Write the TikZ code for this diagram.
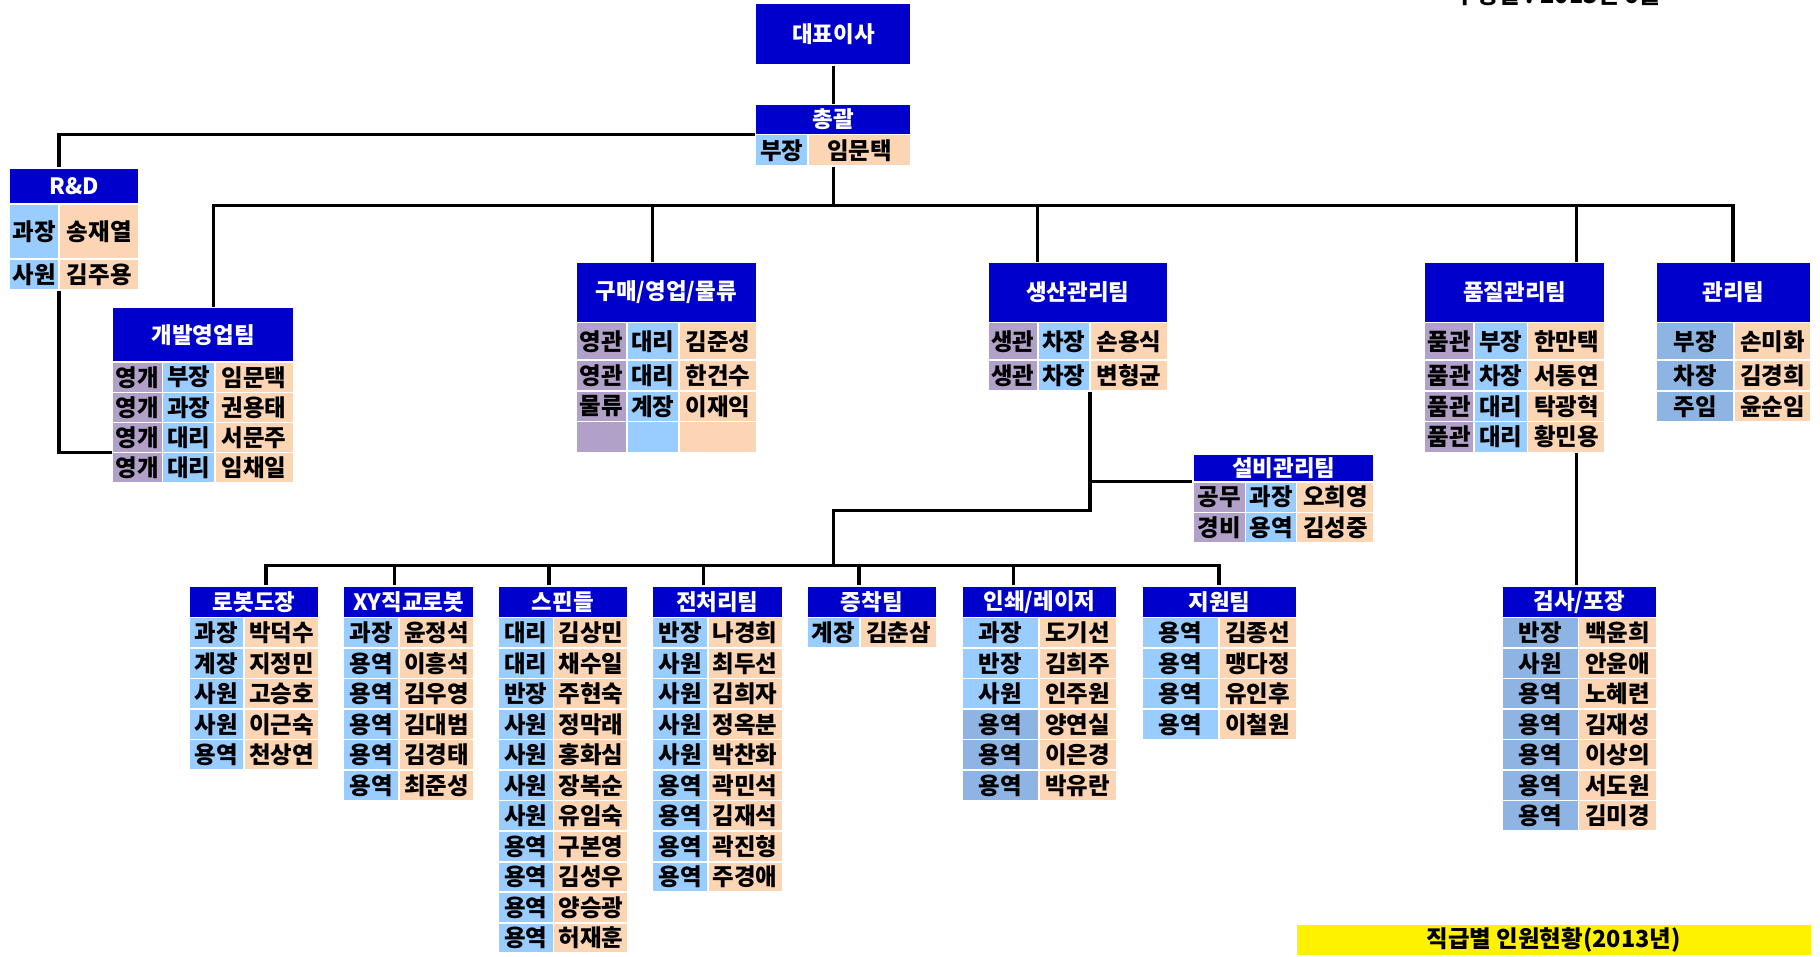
\documentclass[tikz,border=0pt]{standalone}
\usepackage{fontspec}
\setmainfont{Noto Sans CJK KR}
\usepackage{tikz}
\usetikzlibrary{backgrounds}
\definecolor{headblue}{HTML}{0000CC}
\definecolor{grpviolet}{HTML}{B1A0C7}
\definecolor{rankblue}{HTML}{99CCFF}
\definecolor{rankdeep}{HTML}{8DB4E2}
\definecolor{namepeach}{HTML}{FCD5B4}

% one table cell: name, style, x, y (top left), width, height, text
\newcommand{\tcell}[7]{%
  \node[#2, anchor=north west, minimum width={(#5)*0.02cm},
        minimum height={(#6)*0.02cm}] (#1) at ({#3},{#4}) {#7};}

% team of the lower row: name, x, rank width, name width, rank style, title, rows
\newcommand{\lowteam}[7]{%
  \tcell{#1}{head}{#2}{505}{(#3)+(#4)}{27}{#6}
  \foreach \rk/\nm [count=\i] in {#7} {
    \tcell{#1-r\i}{#5}{#2}{532+(\i-1)*26.3}{#3}{26.3}{\rk}
    \tcell{#1-n\i}{who}{(#2)+(#3)}{532+(\i-1)*26.3}{#4}{26.3}{\nm}
  }}

\begin{document}
\begin{tikzpicture}[x=0.02cm, y=-0.02cm,
  link/.style={draw=black, line width=1.7pt},
  cellbase/.style={draw=white, line width=0.8pt, inner sep=0pt, outer sep=0pt,
                   text=black, font=\fontsize{11.5}{13}\selectfont\bfseries},
  head/.style={cellbase, fill=headblue, text=white,
               font=\fontsize{11}{13}\selectfont\bfseries},
  grp/.style={cellbase, fill=grpviolet},
  rank/.style={cellbase, fill=rankblue},
  rankdk/.style={cellbase, fill=rankdeep},
  who/.style={cellbase, fill=namepeach},
  note/.style={cellbase, draw=none, fill=yellow},
]
  \useasboundingbox (0,0) rectangle (1568,824);

  % Date line, cut at the top edge
  \node[anchor=base, font=\fontsize{11.5}{13}\selectfont\bfseries] (date) at (1342,3) {수정일 : 2013년 6월};

  % CEO and head office
  \tcell{ceo}{head}{651}{3}{134}{53}{대표이사}
  \tcell{hq}{head}{651}{90}{134}{26}{총괄}
  \tcell{hq-r}{rank}{651}{116}{45}{27}{부장}
  \tcell{hq-n}{who}{696}{116}{89}{27}{임문택}

  % R&D
  \tcell{rd}{head}{8}{145}{112}{31}{R\&D}
  \tcell{rd-r1}{rank}{8}{176}{43}{47}{과장}
  \tcell{rd-n1}{who}{51}{176}{69}{47}{송재열}
  \tcell{rd-r2}{rank}{8}{223}{43}{27}{사원}
  \tcell{rd-n2}{who}{51}{223}{69}{27}{김주용}

  % Development sales
  \tcell{dv}{head}{97}{265}{156}{47}{개발영업팀}
  \foreach \rk/\nm [count=\i] in {부장/임문택, 과장/권용태, 대리/서문주, 대리/임채일} {
    \tcell{dv-g\i}{grp}{97}{312+(\i-1)*26}{43}{26}{영개}
    \tcell{dv-r\i}{rank}{140}{312+(\i-1)*26}{45}{26}{\rk}
    \tcell{dv-n\i}{who}{185}{312+(\i-1)*26}{68}{26}{\nm}
  }

  % Purchase / sales / logistics
  \tcell{gm}{head}{496}{226}{156}{52}{구매/영업/물류}
  \foreach \gp/\rk/\nm/\y/\h [count=\i] in {영관/대리/김준성/278/32, 영관/대리/한건수/310/27,
      물류/계장/이재익/337/26, {}/{}/{}/363/27} {
    \tcell{gm-g\i}{grp}{496}{\y}{44}{\h}{\gp}
    \tcell{gm-r\i}{rank}{540}{\y}{45}{\h}{\rk}
    \tcell{gm-n\i}{who}{585}{\y}{67}{\h}{\nm}
  }

  % Production control
  \tcell{sg}{head}{851}{226}{155}{52}{생산관리팀}
  \foreach \rk/\nm/\y/\h [count=\i] in {차장/손용식/278/32, 차장/변형균/310/27} {
    \tcell{sg-g\i}{grp}{851}{\y}{43}{\h}{생관}
    \tcell{sg-r\i}{rank}{894}{\y}{45}{\h}{\rk}
    \tcell{sg-n\i}{who}{939}{\y}{67}{\h}{\nm}
  }

  % Facilities
  \tcell{sb}{head}{1028}{391}{156}{24}{설비관리팀}
  \foreach \gp/\rk/\nm [count=\i] in {공무/과장/오희영, 경비/용역/김성중} {
    \tcell{sb-g\i}{grp}{1028}{415+(\i-1)*26.5}{45}{26.5}{\gp}
    \tcell{sb-r\i}{rank}{1073}{415+(\i-1)*26.5}{44}{26.5}{\rk}
    \tcell{sb-n\i}{who}{1117}{415+(\i-1)*26.5}{67}{26.5}{\nm}
  }

  % Quality control
  \tcell{pq}{head}{1227}{226}{156}{52}{품질관리팀}
  \foreach \rk/\nm/\y/\h [count=\i] in {부장/한만택/278/32, 차장/서동연/310/27,
      대리/탁광혁/337/26, 대리/황민용/363/27} {
    \tcell{pq-g\i}{grp}{1227}{\y}{43}{\h}{품관}
    \tcell{pq-r\i}{rank}{1270}{\y}{46}{\h}{\rk}
    \tcell{pq-n\i}{who}{1316}{\y}{67}{\h}{\nm}
  }

  % Administration
  \tcell{mg}{head}{1427}{226}{133}{52}{관리팀}
  \foreach \rk/\nm/\y/\h [count=\i] in {부장/손미화/278/32, 차장/김경희/310/27, 주임/윤순임/337/26} {
    \tcell{mg-r\i}{rankdk}{1427}{\y}{67}{\h}{\rk}
    \tcell{mg-n\i}{who}{1494}{\y}{66}{\h}{\nm}
  }

  % Lower row of teams
  \lowteam{rb}{163}{47}{65}{rank}{로봇도장}{과장/박덕수, 계장/지정민, 사원/고승호, 사원/이근숙, 용역/천상연}
  \lowteam{xy}{296}{48}{64}{rank}{XY직교로봇}{과장/윤정석, 용역/이흥석, 용역/김우영, 용역/김대범, 용역/김경태, 용역/최준성}
  \lowteam{sp}{429}{48}{64}{rank}{스핀들}{대리/김상민, 대리/채수일, 반장/주현숙, 사원/정막래, 사원/홍화심,
      사원/장복순, 사원/유임숙, 용역/구본영, 용역/김성우, 용역/양승광, 용역/허재훈}
  \lowteam{jc}{562}{48}{64}{rank}{전처리팀}{반장/나경희, 사원/최두선, 사원/김희자, 사원/정옥분, 사원/박찬화,
      용역/곽민석, 용역/김재석, 용역/곽진형, 용역/주경애}
  \lowteam{jk}{695}{46}{66}{rank}{증착팀}{계장/김춘삼}
  \tcell{ps}{head}{829}{505}{133}{27}{인쇄/레이저}
  \foreach \fc/\rk/\nm [count=\i] in {rankblue/과장/도기선, rankblue/반장/김희주, rankblue/사원/인주원,
      rankdeep/용역/양연실, rankdeep/용역/이은경, rankdeep/용역/박유란} {
    \tcell{ps-r\i}{rank, fill=\fc}{829}{532+(\i-1)*26.3}{66}{26.3}{\rk}
    \tcell{ps-n\i}{who}{895}{532+(\i-1)*26.3}{67}{26.3}{\nm}
  }
  \lowteam{jw}{984}{66}{67}{rank}{지원팀}{용역/김종선, 용역/맹다정, 용역/유인후, 용역/이철원}
  \lowteam{gs}{1294}{66}{67}{rankdk}{검사/포장}{반장/백윤희, 사원/안윤애, 용역/노혜련, 용역/김재성,
      용역/이상의, 용역/서도원, 용역/김미경}

  % Headcount note
  \tcell{tally}{note}{1117}{797}{443}{26}{직급별 인원현황(2013년)}

  % Bus points
  \coordinate (topbus) at (718,177);
  \coordinate (td-dv) at (184,177);
  \coordinate (td-gm) at (562,177);
  \coordinate (td-sg) at (894,177);
  \coordinate (td-pq) at (1358,177);
  \coordinate (td-mg) at (1493,177);
  \coordinate (lowjoin) at (718,440);
  \coordinate (lowbus) at (718,487);
  \coordinate (ld-rb) at (229,487);
  \coordinate (ld-xy) at (340,487);
  \coordinate (ld-sp) at (473,487);
  \coordinate (ld-jc) at (606,487);
  \coordinate (ld-jk) at (740,487);
  \coordinate (ld-ps) at (873,487);
  \coordinate (ld-jw) at (1050,487);

  % Connectors behind the tables
  \begin{scope}[on background layer]
    \draw[link] (ceo) -- (hq);
    \draw[link] (hq.south west) -| (rd-n1.west |- rd.north);
    \draw[link] (rd-n2.south west) |- (dv-g3.south west);
    \draw[link] (hq) -- (topbus);
    \draw[link] (td-dv |- dv.north) |- (td-mg) -- (td-mg |- mg.north);
    \foreach \t in {gm, sg, pq}
      \draw[link] (td-\t) -- (td-\t |- \t.north);
    \draw[link] (sg-r2.south east) |- (lowjoin) -- (lowbus);
    \draw[link] (sb.south west) -- (sb.south west -| sg-r2.south east);
    \draw[link] (ld-rb |- rb.north) |- (ld-jw) -- (ld-jw |- jw.north);
    \foreach \t in {xy, sp, jc, jk, ps}
      \draw[link] (ld-\t) -- (ld-\t |- \t.north);
    \draw[link] (pq-n4.south -| td-pq) -- (gs.north -| td-pq);
  \end{scope}
\end{tikzpicture}
\end{document}
